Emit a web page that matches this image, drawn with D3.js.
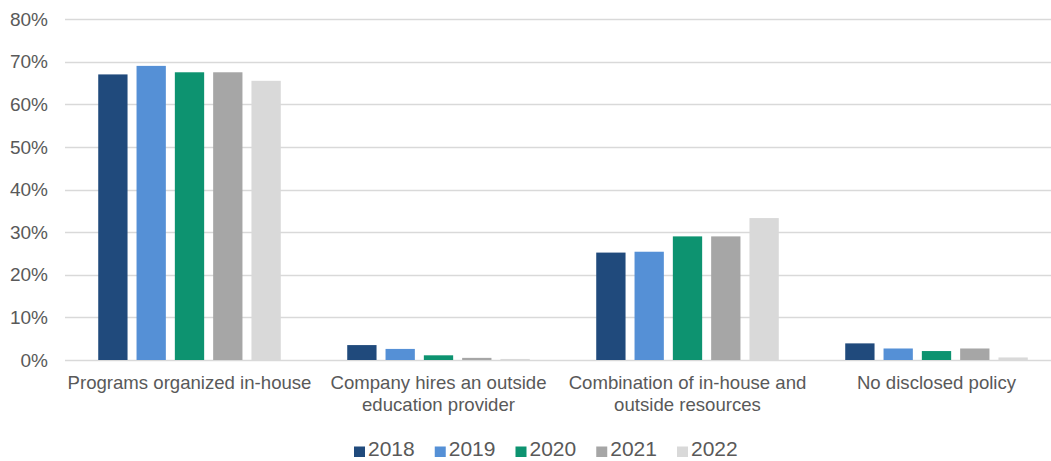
<!DOCTYPE html>
<html><head><meta charset="utf-8">
<script src="https://cdn.jsdelivr.net/npm/d3@7"></script>
<style>body{margin:0;background:#fff;} text{font-family:"Liberation Sans",Arial,sans-serif;}</style>
</head><body><svg id="c" width="1051" height="461"></svg>
<script>
const categories = [["Programs organized in-house"],["Company hires an outside","education provider"],["Combination of in-house and","outside resources"],["No disclosed policy"]];
const years = ["2018","2019","2020","2021","2022"];
const values2018 = [67.0, 3.5, 25.2, 3.9];
const values2019 = [69.0, 2.6, 25.4, 2.7];
const values2020 = [67.5, 1.1, 29.0, 2.1];
const values2021 = [67.5, 0.5, 29.0, 2.7];
const values2022 = [65.5, 0.25, 33.3, 0.6];
const yTicks = [0,10,20,30,40,50,60,70,80];
const colors = ["#204a7c","#5590d6","#0d9370","#a6a6a6","#d9d9d9"];
const series = [values2018, values2019, values2020, values2021, values2022];

const svg = d3.select("#c");
const pLeft = 65, pRight = 1061, pTop = 19, pBottom = 360;
const x0 = d3.scaleBand().domain(d3.range(categories.length)).range([pLeft, pRight]);
const x1 = d3.scaleBand().domain(years).range([0, x0.bandwidth()]).paddingInner(0.235).paddingOuter(0.8675);
const y = d3.scaleLinear().domain([0, 80]).range([pBottom, pTop]);

// gridlines
svg.append("g").selectAll("line").data(yTicks).join("line")
  .attr("x1", pLeft).attr("x2", pRight)
  .attr("y1", d => Math.round(y(d)) + 0.5).attr("y2", d => Math.round(y(d)) + 0.5)
  .attr("stroke", "#d9d9d9").attr("stroke-width", 1.3);

// y labels
svg.append("g").selectAll("text").data(yTicks).join("text")
  .attr("x", 48).attr("y", d => y(d)).attr("dy", "0.35em")
  .attr("text-anchor", "end").attr("fill", "#595959").attr("font-size", 19)
  .text(d => d + "%");

// bars
years.forEach((yr, si) => {
  svg.append("g").selectAll("rect").data(series[si]).join("rect")
    .attr("x", (d, i) => x0(i) + x1(yr))
    .attr("width", x1.bandwidth())
    .attr("y", d => y(d))
    .attr("height", d => y(0) - y(d))
    .attr("fill", colors[si]);
});

// category labels
const cl = svg.append("g");
categories.forEach((lines, i) => {
  const t = cl.append("text").attr("x", x0(i) + x0.bandwidth() / 2).attr("y", 389)
    .attr("text-anchor", "middle").attr("fill", "#595959").attr("font-size", 18.6);
  lines.forEach((ln, j) => t.append("tspan").attr("x", x0(i) + x0.bandwidth() / 2).attr("dy", j === 0 ? 0 : 22).text(ln));
});

// legend
const lg = svg.append("g");
const lx0 = 354, lstep = 80.75;
years.forEach((yr, i) => {
  lg.append("rect").attr("x", lx0 + i * lstep).attr("y", 446.5).attr("width", 11).attr("height", 10.5).attr("fill", colors[i]);
  lg.append("text").attr("x", lx0 + i * lstep + 14).attr("y", 456)
    .attr("fill", "#595959").attr("font-size", 21).text(yr);
});
</script></body></html>
